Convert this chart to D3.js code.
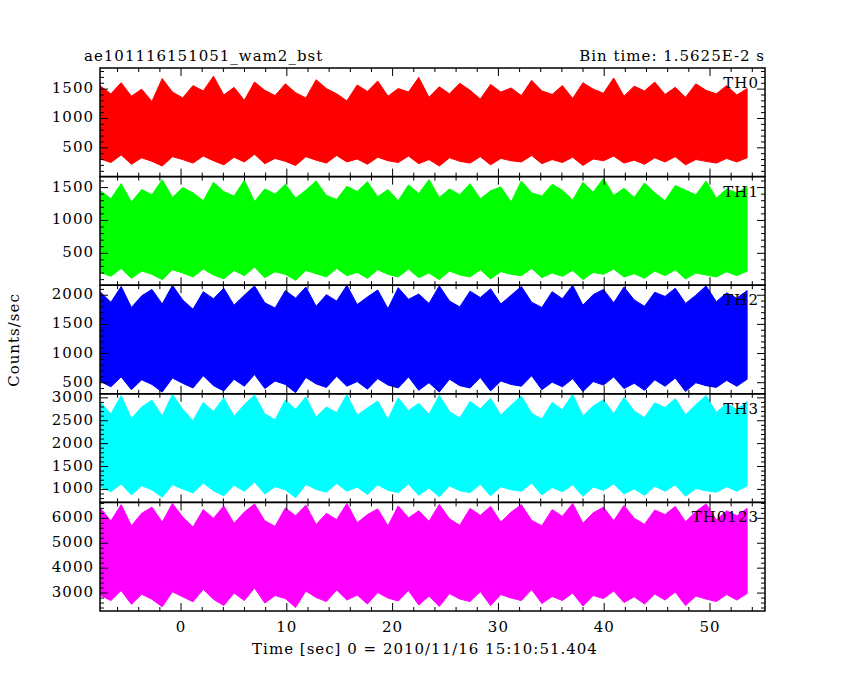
<!DOCTYPE html>
<html><head><meta charset="utf-8">
<script src="https://cdn.jsdelivr.net/npm/d3@7"></script>
<style>body{margin:0;background:#fff}text{font-family:"DejaVu Serif",serif;font-size:15px;letter-spacing:1px}</style>
</head><body><div id="chart"></div>
<script>
// light curve envelopes, one bin per ~0.97 s
const tStart = -7.6, tStep = 0.97;
const panelNames = ["TH0", "TH1", "TH2", "TH3", "TH0123"];
const panelColors = ["#ff0000", "#00ff00", "#0000ff", "#00ffff", "#ff00ff"];
const yDomains = [[10, 1860], [15, 1667], [310, 2172], [716, 3088], [2280, 6640]];
const yMajor = [[500,1000,1500],[500,1000,1500],[500,1000,1500,2000],[1000,1500,2000,2500,3000],[3000,4000,5000,6000]];
const yMinorStep = [100, 100, 100, 100, 200];

const hiTH0 = [1550,1420,1610,1380,1500,1290,1680,1450,1350,1560,1470,1720,1400,1530,1310,1620,1480,1390,1590,1440,1350,1660,1510,1420,1300,1570,1460,1640,1380,1510,1450,1700,1360,1540,1420,1600,1480,1330,1580,1450,1520,1390,1650,1470,1410,1560,1340,1610,1500,1430,1690,1380,1550,1470,1620,1410,1530,1360,1590,1480,1420,1560,1400,1510];
const loTH0 = [310,250,380,220,330,270,190,350,300,240,360,280,210,340,260,390,230,320,270,200,350,290,240,370,260,310,220,340,280,250,360,230,300,190,330,270,240,350,210,320,280,260,370,230,300,250,340,200,310,280,360,240,290,220,330,260,350,210,300,270,240,320,260,330];
const hiTH1 = [1450,1330,1560,1280,1470,1390,1620,1350,1500,1420,1300,1580,1440,1370,1610,1290,1480,1400,1550,1340,1460,1600,1380,1320,1520,1440,1590,1360,1470,1300,1540,1410,1620,1350,1480,1390,1560,1330,1450,1510,1280,1600,1420,1370,1550,1460,1310,1580,1430,1640,1380,1490,1350,1570,1420,1300,1530,1460,1390,1600,1340,1480,1420,1510];
const loTH1 = [210,150,270,120,230,180,100,250,200,140,260,170,110,240,160,290,130,220,180,90,240,190,140,270,160,210,120,250,180,140,260,130,200,100,230,170,140,250,110,220,180,160,270,130,200,150,240,100,210,180,260,140,190,120,230,160,250,110,200,170,140,220,160,230];
const hiTH2 = [2050,1880,2150,1790,1990,2100,1850,2170,1920,1760,2060,1940,2120,1830,2000,2160,1870,1780,2080,1950,2140,1810,2010,1900,2170,1840,1970,2090,1770,2130,1930,2020,1860,2160,1900,1800,2070,1960,2110,1850,2000,2150,1880,1790,2060,1940,2170,1830,2010,2100,1870,2140,1920,1810,2050,1980,2120,1860,2000,2160,1890,2040,1950,2080];
const loTH2 = [520,430,600,380,550,470,340,580,490,410,620,450,360,560,440,640,400,530,470,330,590,480,420,610,440,520,390,570,460,410,600,370,500,340,560,450,410,590,360,530,470,440,620,380,510,430,570,350,520,460,600,400,490,370,550,440,580,350,500,450,420,540,440,560];
const hiTH3 = [2900,2650,3050,2550,2800,2950,2600,3080,2750,2500,2900,2700,3000,2600,2850,3060,2650,2520,2950,2750,3020,2580,2800,2680,3070,2620,2780,2930,2530,3000,2720,2880,2640,3050,2700,2560,2920,2760,2990,2620,2840,3040,2660,2540,2900,2740,3080,2600,2820,2960,2650,3010,2710,2570,2890,2790,2980,2630,2850,3050,2680,2870,2750,2920];
const loTH3 = [1050,950,1120,880,1080,990,830,1100,1010,920,1140,970,860,1090,960,1160,900,1060,990,820,1110,1000,940,1130,960,1050,890,1100,980,930,1120,870,1030,840,1080,970,930,1110,860,1060,990,960,1140,880,1040,950,1100,850,1050,980,1120,900,1010,870,1070,960,1100,850,1020,970,940,1060,960,1080];
const hiTH0123 = [6400,5900,6550,5700,6200,6450,5850,6600,6050,5650,6350,6000,6500,5800,6250,6580,5900,5680,6420,6100,6530,5750,6200,5950,6600,5820,6150,6380,5700,6500,6020,6300,5880,6560,5980,5720,6400,6120,6480,5850,6250,6550,5920,5700,6350,6080,6600,5800,6220,6450,5900,6520,6000,5760,6330,6150,6480,5860,6270,6580,5940,6300,6100,6400];
const loTH0123 = [2900,2700,3100,2550,2950,2750,2450,3050,2850,2650,3150,2750,2500,3000,2700,3200,2600,2900,2780,2420,3080,2820,2660,3120,2720,2920,2560,3020,2800,2680,3100,2520,2880,2460,2980,2760,2660,3060,2500,2940,2800,2700,3140,2580,2860,2700,3000,2480,2900,2780,3080,2620,2850,2560,2960,2720,3040,2500,2880,2760,2660,2940,2720,2980];
const his = [hiTH0, hiTH1, hiTH2, hiTH3, hiTH0123];
const los = [loTH0, loTH1, loTH2, loTH3, loTH0123];

const W = 850, H = 680;
const plotLeft = 100, plotRight = 765, plotTop = 68, panelH = 108.6;
const svg = d3.select("#chart").append("svg").attr("width", W).attr("height", H);
const x = d3.scaleLinear().domain([-7.66, 55.2]).range([plotLeft, plotRight]);

panelNames.forEach((name, p) => {
  const y0 = plotTop + p * panelH, y1 = y0 + panelH;
  const y = d3.scaleLinear().domain(yDomains[p]).range([y1, y0]);
  const g = svg.append("g");
  const pts = his[p].map((h, i) => ({t: tStart + i * tStep, hi: h, lo: los[p][i]}));
  g.append("path").datum(pts)
    .attr("d", d3.area().x(d => x(d.t)).y0(d => y(d.lo)).y1(d => y(d.hi)))
    .attr("fill", panelColors[p]).attr("stroke", panelColors[p]).attr("stroke-width", 1);

  g.append("rect").attr("x", plotLeft).attr("y", y0).attr("width", plotRight - plotLeft).attr("height", panelH)
    .attr("fill", "none").attr("stroke", "#000").attr("stroke-width", 1.5);

  d3.range(-6, 55.1, 2).forEach(t => {
    const len = t % 10 === 0 ? 8 : 4;
    g.append("line").attr("x1", x(t)).attr("x2", x(t)).attr("y1", y1).attr("y2", y1 - len).attr("stroke", "#000");
    g.append("line").attr("x1", x(t)).attr("x2", x(t)).attr("y1", y0).attr("y2", y0 + len).attr("stroke", "#000");
  });
  const [d0, d1] = yDomains[p];
  d3.range(Math.ceil(d0 / yMinorStep[p]) * yMinorStep[p], d1, yMinorStep[p]).forEach(v => {
    const len = yMajor[p].includes(v) ? 8 : 4;
    g.append("line").attr("x1", plotLeft).attr("x2", plotLeft + len).attr("y1", y(v)).attr("y2", y(v)).attr("stroke", "#000");
    g.append("line").attr("x1", plotRight).attr("x2", plotRight - len).attr("y1", y(v)).attr("y2", y(v)).attr("stroke", "#000");
  });
  yMajor[p].forEach(v => {
    g.append("text").attr("x", plotLeft - 6).attr("y", y(v) + 4).attr("text-anchor", "end").text(v);
  });
  g.append("text").attr("x", plotRight - 6).attr("y", y0 + 20).attr("text-anchor", "end").text(name);
});

const yBottom = plotTop + 5 * panelH;
[0, 10, 20, 30, 40, 50].forEach(t => {
  svg.append("text").attr("x", x(t)).attr("y", yBottom + 21).attr("text-anchor", "middle").text(t);
});
svg.append("text").attr("x", 84).attr("y", 61).text("ae101116151051_wam2_bst");
svg.append("text").attr("x", plotRight).attr("y", 61).attr("text-anchor", "end").text("Bin time: 1.5625E-2 s");
svg.append("text").attr("x", 425).attr("y", 654).attr("text-anchor", "middle").text("Time [sec] 0 = 2010/11/16 15:10:51.404");
svg.append("text").attr("transform", "translate(19,340) rotate(-90)").attr("text-anchor", "middle").text("Counts/sec");
</script></body></html>
